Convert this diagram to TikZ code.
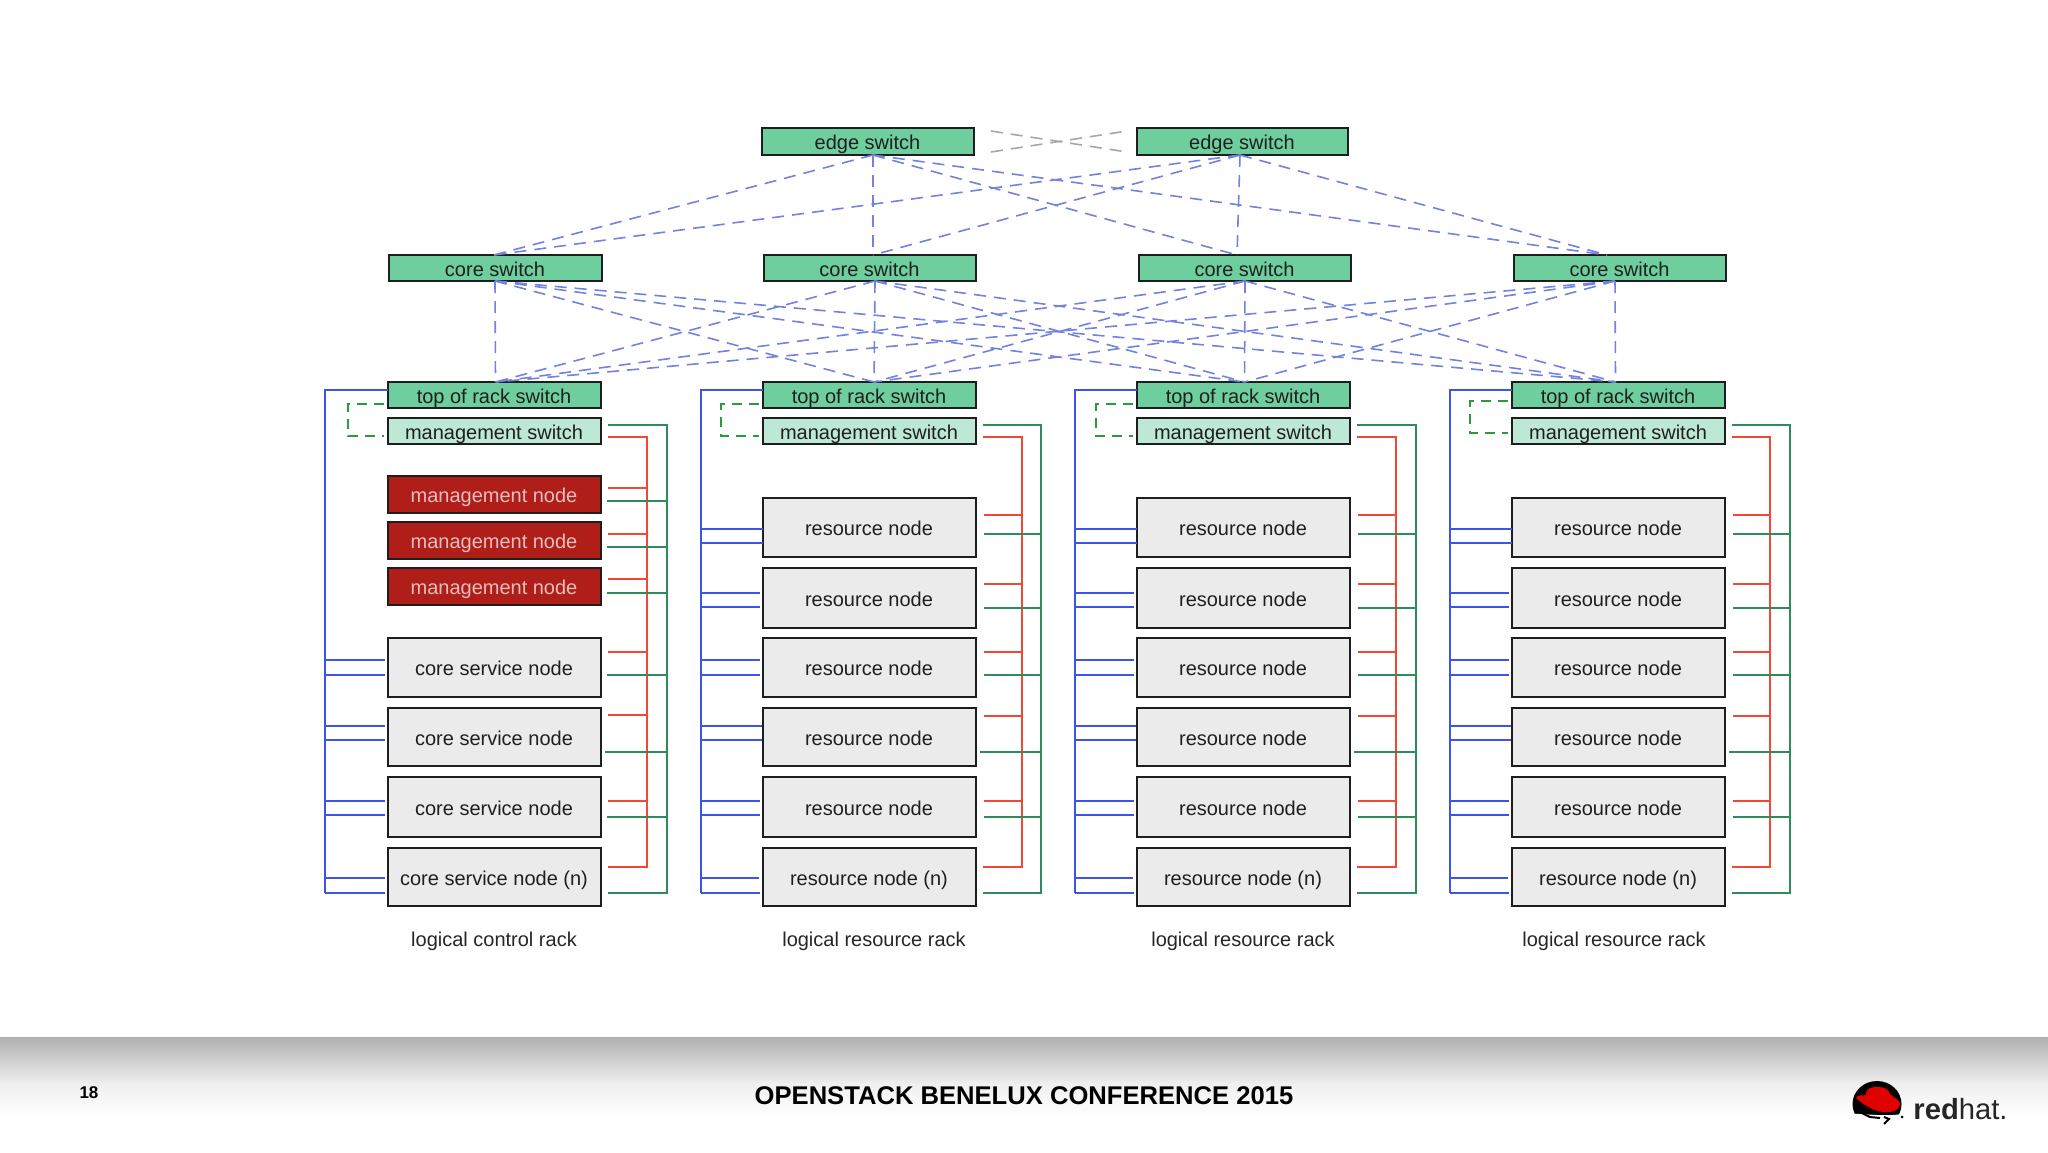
\documentclass[tikz,border=0pt]{standalone}
\usepackage{fontspec}
\setmainfont{Liberation Sans}
\definecolor{swgreen}{RGB}{110,206,158}
\definecolor{swlight}{RGB}{190,232,214}
\definecolor{nodegray}{RGB}{235,235,235}
\definecolor{mgred}{RGB}{176,30,26}
\definecolor{mgtext}{RGB}{228,190,188}
\definecolor{busblue}{RGB}{60,85,230}
\definecolor{busred}{RGB}{240,72,52}
\definecolor{busgreen}{RGB}{46,140,90}
\definecolor{dashgreen}{RGB}{44,155,60}
\definecolor{fanblue}{RGB}{115,130,222}
\definecolor{bordk}{RGB}{30,30,30}
\tikzset{
  box/.style={draw=bordk,line width=1.35pt,inner sep=0pt,outer sep=0pt,text=black!88,
    font=\fontsize{10}{12}\selectfont,text height=10pt,text depth=2pt,align=center},
  sw/.style={box,fill=swgreen},
  msw/.style={box,fill=swlight},
  gn/.style={box,fill=nodegray},
  rn/.style={box,fill=mgred,text=mgtext},
  fan/.style={draw=fanblue,line width=.8pt,dash pattern=on 6pt off 4pt},
  peer/.style={draw=black!35,line width=.8pt,dash pattern=on 6pt off 4pt},
  bb/.style={draw=busblue,line width=1.4pt,line join=miter},
  br/.style={draw=busred,line width=1.4pt,line join=miter},
  bg/.style={draw=busgreen,line width=1.4pt,line join=miter},
  dg/.style={draw=dashgreen,line width=1.2pt,dash pattern=on 5pt off 3.5pt},
  rlabel/.style={font=\fontsize{10}{12}\selectfont,text=black!85,inner sep=0pt},
}
\newcommand{\bx}[7]{%
  \pgfmathsetmacro\bxw{(#5-#3-2)*0.5}%
  \pgfmathsetmacro\bxh{(#6-#4-2)*0.5}%
  \pgfmathsetmacro\bxcx{(#3+#5-2)*0.5}%
  \pgfmathsetmacro\bxcy{(#4+#6-2)*0.5}%
  \node[#2,minimum width=\bxw pt,minimum height=\bxh pt] (#1) at (\bxcx,\bxcy) {\kern-.5pt #7};}
\begin{document}
\begin{tikzpicture}[x=0.5pt,y=-0.5pt]
\path[use as bounding box] (0,0) rectangle (2048,1152);
\fill[white] (0,0) rectangle (2048,1152);
% footer band
\shade[top color=black!31,bottom color=black!6,draw=none] (0,1037) rectangle (2048,1084);
\shade[top color=black!6,bottom color=white,draw=none] (0,1084) rectangle (2048,1118);
% switches
\bx{e1}{sw}{762}{128}{976}{157}{edge switch}
\bx{e2}{sw}{1137}{128}{1350}{157}{edge switch}
\bx{c1}{sw}{389}{255}{604}{283}{core switch}
\bx{c2}{sw}{764}{255}{978}{283}{core switch}
\bx{c3}{sw}{1139}{255}{1353}{283}{core switch}
\bx{c4}{sw}{1514}{255}{1728}{283}{core switch}
% racks
\foreach \r/\dx in {1/0,2/375,3/749,4/1124}{
  \pgfmathsetmacro\xa{388+\dx}
  \pgfmathsetmacro\xb{603+\dx}
  \bx{t\r}{sw}{\xa}{382}{\xb}{410}{top of rack switch}
  \bx{m\r}{msw}{\xa}{418}{\xb}{446}{management switch}
}
\bx{a1}{rn}{388}{476}{603}{515}{management node}
\bx{a2}{rn}{388}{522}{603}{561}{management node}
\bx{a3}{rn}{388}{568}{603}{607}{management node}
\bx{a4}{gn}{388}{638}{603}{699}{core service node}
\bx{a5}{gn}{388}{708}{603}{768}{core service node}
\bx{a6}{gn}{388}{777}{603}{839}{core service node}
\bx{a7}{gn}{388}{848}{603}{908}{core service node (n)}
\foreach \r/\dx/\nm in {2/375/rb,3/749/rc,4/1124/rd}{
  \pgfmathsetmacro\xa{388+\dx}
  \pgfmathsetmacro\xb{603+\dx}
  \bx{\nm1}{gn}{\xa}{498}{\xb}{559}{resource node}
  \bx{\nm2}{gn}{\xa}{568}{\xb}{630}{resource node}
  \bx{\nm3}{gn}{\xa}{638}{\xb}{699}{resource node}
  \bx{\nm4}{gn}{\xa}{708}{\xb}{768}{resource node}
  \bx{\nm5}{gn}{\xa}{777}{\xb}{839}{resource node}
  \bx{\nm6}{gn}{\xa}{848}{\xb}{908}{resource node (n)}
}
% rack captions
\node[rlabel] (l1) at (494,941) {logical control rack};
\node[rlabel] (l2) at (874,941) {logical resource rack};
\node[rlabel] (l3) at (1243,941) {logical resource rack};
\node[rlabel] (l4) at (1614,941) {logical resource rack};
% peer links
\draw[peer] ([shift={(8.5pt,5.25pt)}]e1.east) -- ([shift={(-5pt,-5.25pt)}]e2.west);
\draw[peer] ([shift={(8.5pt,-5.25pt)}]e1.east) -- ([shift={(-5pt,5.25pt)}]e2.west);
% fan: edge to core
\foreach \a/\da in {e1/2.5,e2/-1.25}
  \foreach \b/\db in {c1/-.75,c2/1.5,c3/-4,c4/-6.5}
    \draw[fan] ([xshift=\da pt]\a.south) -- ([xshift=\db pt]\b.north);
% fan: core to rack
\foreach \a/\da in {c1/-.25,c2/2.5,c3/0,c4/-2.5}
  \foreach \b/\db in {t1/.5,t2/2.25,t3/.5,t4/-1.5}
    \draw[fan] ([xshift=\da pt]\a.south) -- ([xshift=\db pt]\b.north);
% bus coordinates
\foreach \r/\xb/\xr/\xg in {1/325/647/667,2/701/1022/1041,3/1075/1396/1416,4/1450/1770/1790}{
  \coordinate (B\r) at (\xb,0);
  \coordinate (R\r) at (\xr,0);
  \coordinate (G\r) at (\xg,0);
}
% management dashed loop
\foreach \r/\xl/\ya/\yc in {1/348/404/436,2/721/404/436,3/1096/404/436,4/1470/401/433}{
  \draw[dg] ([xshift=-2pt]t\r.west |- 0,\ya) -| (\xl,\yc) -- ([xshift=-2pt]m\r.west |- 0,\yc);
}
% trunk lines per rack
\foreach \r in {1,2,3,4}{
  \draw[bb] (t\r.west |- 0,390) -| (B\r |- 0,893);
  \draw[br] ([xshift=3.5pt]m\r.east |- 0,437) -| (R\r |- 0,867) -- ([xshift=3.5pt]m\r.east |- 0,867);
  \draw[bg] ([xshift=3.5pt]m\r.east |- 0,425) -| (G\r |- 0,893) -- ([xshift=3.5pt]m\r.east |- 0,893);
}
% control rack ticks
\foreach \n/\y in {a4/660,a4/675,a5/726,a5/740,a6/801,a6/815,a7/878,a7/893}
  \draw[bb] (B1 |- 0,\y) -- ([xshift=-1.5pt]\n.west |- 0,\y);
\foreach \n/\y in {a1/488,a2/534,a3/579,a4/652,a5/715,a6/801}
  \draw[br] ([xshift=3.5pt]\n.east |- 0,\y) -- (R1 |- 0,\y);
\foreach \n/\y/\s in {a1/501/3,a2/547/3,a3/593/3,a4/675/3,a5/752/2,a6/817/3}
  \draw[bg] ([xshift=\s pt]\n.east |- 0,\y) -- (G1 |- 0,\y);
% resource rack ticks
\foreach \r/\nm in {2/rb,3/rc,4/rd}{
  \foreach \i/\y/\s in {1/529/0,1/543/0,2/593/1.3,2/607/1.3,3/660/1.3,3/675/1.3,4/726/.7,4/740/.7,5/801/1.3,5/815/1.3,6/878/1.8,6/893/1.3}
    \draw[bb] (B\r |- 0,\y) -- ([xshift=-\s pt]\nm\i.west |- 0,\y);
  \foreach \i/\y in {1/515,2/584,3/652,4/716,5/801}
    \draw[br] ([xshift=4pt]\nm\i.east |- 0,\y) -- (R\r |- 0,\y);
  \foreach \i/\y/\s in {1/534/4,2/608/4,3/675/4,4/752/2,5/817/4}
    \draw[bg] ([xshift=\s pt]\nm\i.east |- 0,\y) -- (G\r |- 0,\y);
}
% footer text
\node[inner sep=0pt,font=\bfseries\fontsize{8.5}{10}\selectfont,text=black] (pg) at (89,1093) {18};
\node[inner sep=0pt,font=\bfseries\fontsize{12.8}{16}\selectfont,text=black] (conf) at (1024,1096) {OPENSTACK BENELUX CONFERENCE 2015};
% logo
\fill[black] (1877,1104) ellipse [x radius=24.5,y radius=23];
\fill[white] (1851,1114) .. controls (1862,1113) and (1880,1117) .. (1903,1114) -- (1903,1128) -- (1851,1128) -- cycle;
\fill[red!88!black] (1856,1098) .. controls (1866,1107) and (1878,1113) .. (1887,1112)
  .. controls (1897,1112) and (1902,1107) .. (1899,1101)
  .. controls (1896,1098) and (1892,1096) .. (1890,1094)
  .. controls (1889,1089) and (1884,1087) .. (1878,1087)
  .. controls (1872,1087) and (1866,1087) .. (1866,1095)
  .. controls (1862,1096) and (1858,1094) .. cycle;
\draw[black,line width=1pt] (1862,1113) -- (1870,1117) -- (1880,1118);
\draw[black,line width=1pt] (1884,1117) -- (1889,1119) -- (1884,1124);
\fill[black] (1902,1117) circle [radius=1.5];
\node[inner sep=0pt,anchor=base west,font=\fontsize{14.6}{16}\selectfont,text=black!85] (rh) at (1913,1119) {\textbf{red}hat.};
\end{tikzpicture}
\end{document}
